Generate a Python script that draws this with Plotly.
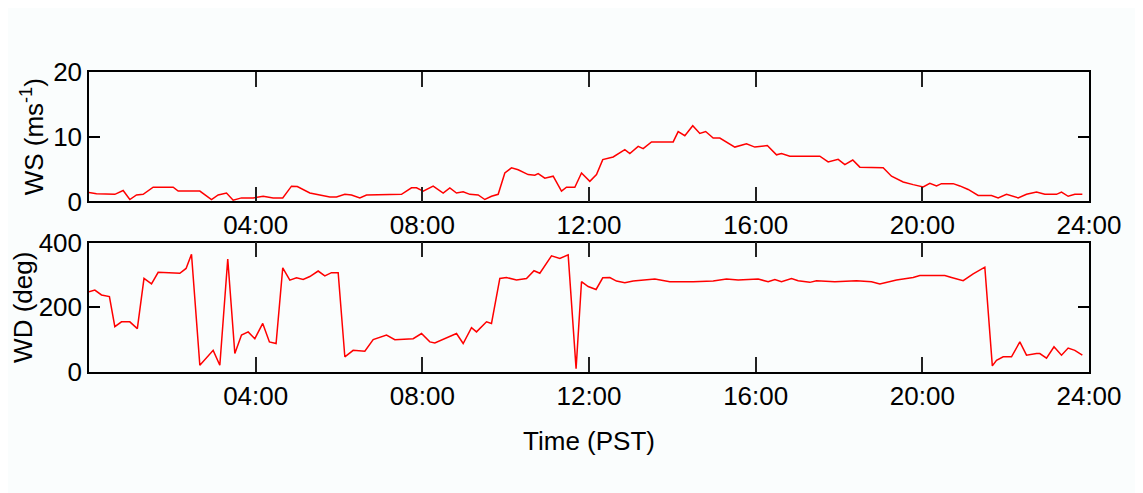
import plotly.graph_objects as go
from plotly.subplots import make_subplots

COLOR_LINE = "#ff0000"
COLOR_FONT = "#000000"
COLOR_BG = "#fafdfd"
FONT_FAMILY = "Liberation Sans, Arial, sans-serif"
SIZE_TEXT = 26

# Wind speed (hours PST, m/s)
ws_hours = [0.0, 0.18, 0.62, 0.82, 0.98, 1.14, 1.3, 1.54, 2.02, 2.14, 2.66, 2.94, 3.1, 3.3, 3.46,
            3.66, 3.94, 4.18, 4.42, 4.65, 4.86, 5.0, 5.3, 5.54, 5.78, 5.94, 6.14, 6.3, 6.5, 6.66,
            7.5, 7.74, 7.86, 8.02, 8.26, 8.5, 8.66, 8.82, 8.98, 9.14, 9.34, 9.5, 9.66, 9.82, 9.98,
            10.14, 10.3, 10.54, 10.7, 10.78, 10.94, 11.14, 11.34, 11.46, 11.66, 11.82, 12.02, 12.18,
            12.33, 12.58, 12.86, 12.98, 13.18, 13.3, 13.5, 14.02, 14.14, 14.3, 14.49, 14.66, 14.8,
            14.98, 15.14, 15.5, 15.78, 15.98, 16.28, 16.5, 16.62, 16.82, 17.54, 17.74, 17.98, 18.14,
            18.33, 18.5, 19.06, 19.26, 19.54, 19.78, 20.02, 20.18, 20.34, 20.46, 20.74, 20.9, 21.1,
            21.34, 21.66, 21.82, 22.02, 22.3, 22.5, 22.74, 22.94, 23.22, 23.34, 23.5, 23.66, 23.84]
ws_values = [1.4, 1.2, 1.1, 1.7, 0.3, 1.0, 1.1, 2.2, 2.2, 1.6, 1.6, 0.3, 1.0, 1.3, 0.2,
             0.55, 0.55, 0.8, 0.55, 0.55, 2.36, 2.3, 1.3, 1.0, 0.7, 0.7, 1.1, 1.0, 0.55, 1.0,
             1.1, 2.1, 2.1, 1.6, 2.36, 1.3, 2.1, 1.3, 1.5, 1.1, 1.0, 0.3, 0.8, 1.1, 4.4,
             5.2, 4.9, 4.15, 4.05, 4.3, 3.6, 3.9, 1.6, 2.2, 2.2, 4.4, 3.1, 4.15,
             6.46, 6.87, 8.0, 7.4, 8.5, 8.15, 9.2, 9.2, 10.8, 10.15, 11.7, 10.5, 10.8,
             9.8, 9.8, 8.4, 8.9, 8.4, 8.65, 7.2, 7.4, 7.0, 7.0, 6.1, 6.5, 5.7,
             6.4, 5.3, 5.2, 3.9, 3.0, 2.6, 2.25, 2.8, 2.4, 2.75, 2.75, 2.4, 1.85,
             0.92, 0.92, 0.55, 1.1, 0.55, 1.1, 1.45, 1.1, 1.1, 1.45, 0.8, 1.1, 1.1]

# Wind direction (hours PST, degrees)
wd_hours = [0.0, 0.14, 0.3, 0.49, 0.62, 0.78, 0.98, 1.16, 1.32, 1.5, 1.66, 2.18, 2.33, 2.46, 2.66,
            2.98, 3.14, 3.33, 3.5, 3.66, 3.82, 3.98, 4.17, 4.33, 4.49, 4.65, 4.82, 4.98, 5.14, 5.3,
            5.5, 5.66, 5.82, 5.98, 6.14, 6.34, 6.62, 6.82, 7.14, 7.34, 7.78, 7.98, 8.18, 8.3, 8.82,
            8.98, 9.18, 9.3, 9.54, 9.66, 9.86, 10.02, 10.26, 10.5, 10.68, 10.82, 11.1, 11.3, 11.5,
            11.69, 11.82, 11.98, 12.17, 12.33, 12.5, 12.66, 12.86, 13.06, 13.58, 13.94, 14.5, 14.98,
            15.3, 15.58, 16.06, 16.3, 16.46, 16.62, 16.86, 17.02, 17.3, 17.46, 17.9, 18.42, 18.78,
            18.98, 19.38, 19.78, 19.94, 20.54, 20.7, 20.98, 21.22, 21.5, 21.68, 21.78, 21.94, 22.14,
            22.34, 22.5, 22.74, 22.82, 22.98, 23.16, 23.34, 23.5, 23.66, 23.84]
wd_values = [248, 253, 238, 233, 140, 155, 155, 134, 289, 272, 308, 305, 320, 364, 21,
             67, 21, 349, 57, 114, 124, 103, 150, 93, 88, 322, 284, 291, 286, 295,
             312, 297, 307, 307, 47, 67, 64, 100, 114, 100, 103, 119, 93, 90, 119,
             88, 137, 124, 155, 150, 289, 292, 284, 289, 313, 305, 359, 351, 362,
             10, 279, 264, 255, 291, 292, 281, 276, 281, 287, 279, 279, 281,
             287, 284, 287, 279, 286, 279, 289, 282, 277, 282, 279, 282, 279,
             272, 284, 292, 298, 298, 292, 282, 303, 324, 19, 36, 47, 47,
             93, 52, 57, 57, 43, 78, 52, 74, 67, 52]

x_tickvals = [4, 8, 12, 16, 20, 24]
x_ticktext = ["04:00", "08:00", "12:00", "16:00", "20:00", "24:00"]

fig = make_subplots(rows=2, cols=1, vertical_spacing=0.137)

fig.add_trace(go.Scatter(
    x=ws_hours, y=ws_values, mode="lines",
    line=dict(color=COLOR_LINE, width=1.5),
    showlegend=False
), row=1, col=1)

fig.add_trace(go.Scatter(
    x=wd_hours, y=wd_values, mode="lines",
    line=dict(color=COLOR_LINE, width=1.5),
    showlegend=False
), row=2, col=1)

xaxis_style = dict(
    range=[0, 24],
    tickvals=x_tickvals,
    ticktext=x_ticktext,
    ticks="inside",
    ticklen=15,
    tickwidth=1.5,
    tickcolor="#222222",
    showline=True,
    linecolor="black",
    linewidth=1.5,
    mirror="ticks",
    showgrid=False,
    zeroline=False,
    automargin=False,
    tickfont=dict(size=SIZE_TEXT, color=COLOR_FONT),
)
yaxis_style = dict(
    ticks="inside",
    ticklen=11,
    tickwidth=1.5,
    tickcolor="black",
    showline=True,
    linecolor="black",
    linewidth=1.5,
    mirror="ticks",
    showgrid=False,
    zeroline=False,
    automargin=False,
    tickfont=dict(size=SIZE_TEXT, color=COLOR_FONT),
)

fig.update_xaxes(**xaxis_style)
fig.update_xaxes(title=dict(text="Time (PST)", font=dict(size=SIZE_TEXT)), title_standoff=22, row=2, col=1)

fig.update_yaxes(**yaxis_style)
fig.update_yaxes(range=[0, 20], tickvals=[0, 10, 20],
                 title=dict(text="WS (ms<sup>-1</sup>)", font=dict(size=SIZE_TEXT), standoff=2),
                 row=1, col=1)
fig.update_yaxes(range=[0, 400], tickvals=[0, 200, 400],
                 title=dict(text="WD (deg)", font=dict(size=SIZE_TEXT), standoff=2),
                 row=2, col=1)

# the page body adds an 8px offset, so the figure is a little smaller than the window
fig.update_layout(
    width=1135,
    height=485,
    margin=dict(l=81, r=54, t=64, b=121),
    paper_bgcolor=COLOR_BG,
    plot_bgcolor=COLOR_BG,
    font=dict(family=FONT_FAMILY, size=SIZE_TEXT, color=COLOR_FONT),
    showlegend=False,
)

fig.write_html("out.html")
